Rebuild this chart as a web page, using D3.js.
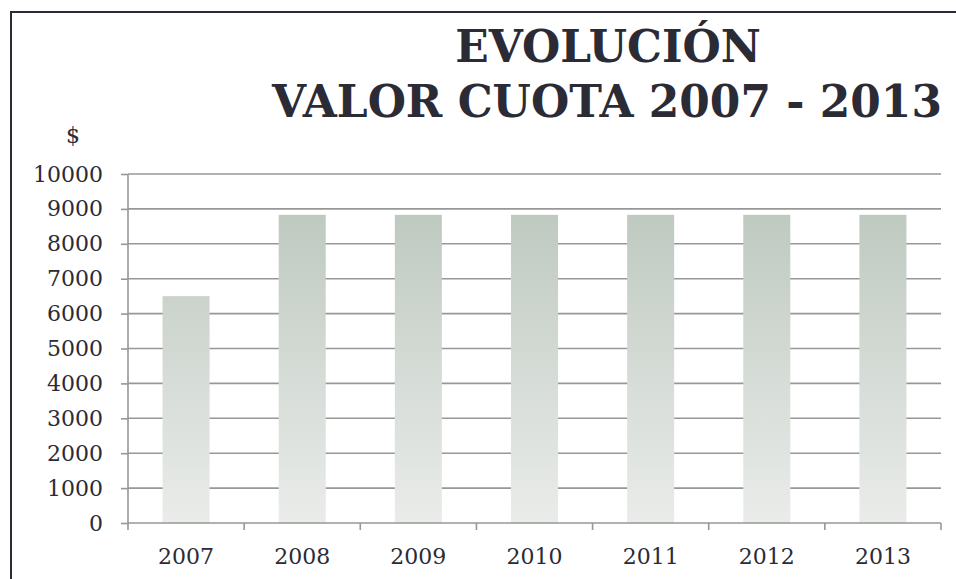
<!DOCTYPE html>
<html><head><meta charset="utf-8">
<script src="https://cdn.jsdelivr.net/npm/d3@7"></script>
<style>body{margin:0;background:#fff}svg{display:block}</style>
</head><body>
<svg id="c" width="956" height="579"></svg>
<script>
const categories = ["2007","2008","2009","2010","2011","2012","2013"];
const values = [6500, 8830, 8830, 8830, 8830, 8830, 8830];
const yTicks = [0,1000,2000,3000,4000,5000,6000,7000,8000,9000,10000];
const titleLines = ["EVOLUCIÓN","VALOR CUOTA 2007 - 2013"];
const yLabel = "$";

const svg = d3.select("#c");
const ink = "#2b2b36";
const font = "'DejaVu Serif', 'Liberation Serif', serif";

// frame
svg.append("rect").attr("x",11).attr("y",12).attr("width",960).attr("height",600)
  .attr("fill","none").attr("stroke",ink).attr("stroke-width",2);

const defs = svg.append("defs");
const g1 = defs.append("linearGradient").attr("id","bg")
  .attr("gradientUnits","userSpaceOnUse").attr("x1",0).attr("x2",0).attr("y1",174).attr("y2",523);
g1.append("stop").attr("offset","0%").attr("stop-color","#b9c5bb");
g1.append("stop").attr("offset","100%").attr("stop-color","#eaecea");

const x = d3.scaleBand().domain(categories).range([128, 941]).paddingInner(0).paddingOuter(0);
const y = d3.scaleLinear().domain([0,10000]).range([523,174]);

// gridlines
svg.append("g").selectAll("line").data(yTicks.slice(1)).join("line")
  .attr("x1",128).attr("x2",941).attr("y1",d=>y(d)).attr("y2",d=>y(d))
  .attr("stroke","#979797").attr("stroke-width",1.6);

// bars
const bw = x.bandwidth()*0.405;
svg.append("g").selectAll("rect").data(values).join("rect")
  .attr("x",(d,i)=>x(categories[i])+x.bandwidth()/2-bw/2)
  .attr("width",bw)
  .attr("y",d=>y(d)).attr("height",d=>y(0)-y(d))
  .attr("fill","url(#bg)");

// y axis
const ya = svg.append("g").attr("transform","translate(128,0)")
  .call(d3.axisLeft(y).tickValues(yTicks).tickSize(7).tickPadding(18).tickFormat(d3.format("d")));
ya.select(".domain").attr("stroke","#979797").attr("stroke-width",1.6).attr("d","M0,174V523");
ya.selectAll(".tick line").attr("stroke","#979797").attr("stroke-width",1.6);
ya.selectAll("text").attr("font-family",font).attr("font-size",22).attr("fill",ink);

// x axis
const xa = svg.append("g").attr("transform","translate(0,523)")
  .call(d3.axisBottom(x).tickSize(0).tickPadding(25));
xa.select(".domain").attr("stroke","#979797").attr("stroke-width",1.6).attr("d","M128,0H941");
xa.selectAll("text").attr("font-family",font).attr("font-size",22).attr("fill",ink);
// band boundary ticks
svg.append("g").selectAll("line").data(d3.range(categories.length+1)).join("line")
  .attr("x1",i=>128+i*x.step()).attr("x2",i=>128+i*x.step())
  .attr("y1",523).attr("y2",530).attr("stroke","#979797").attr("stroke-width",1.6);

// title
function fitText(t, w){
  const l = t.node().getComputedTextLength();
  const fs = parseFloat(t.attr("font-size"));
  t.attr("font-size", fs*w/l);
}
const t2 = svg.append("text").attr("x",607).attr("y",117).attr("text-anchor","middle")
  .attr("font-family",font).attr("font-weight","bold").attr("font-size",44).attr("fill",ink)
  .text(titleLines[1]);
fitText(t2, 670);
svg.append("text").attr("x",608).attr("y",62).attr("text-anchor","middle")
  .attr("font-family",font).attr("font-weight","bold").attr("font-size",t2.attr("font-size")).attr("fill",ink)
  .text(titleLines[0]);

svg.append("text").attr("x",73).attr("y",143).attr("text-anchor","middle")
  .attr("font-family",font).attr("font-size",22).attr("fill",ink).text(yLabel);
</script>
</body></html>
